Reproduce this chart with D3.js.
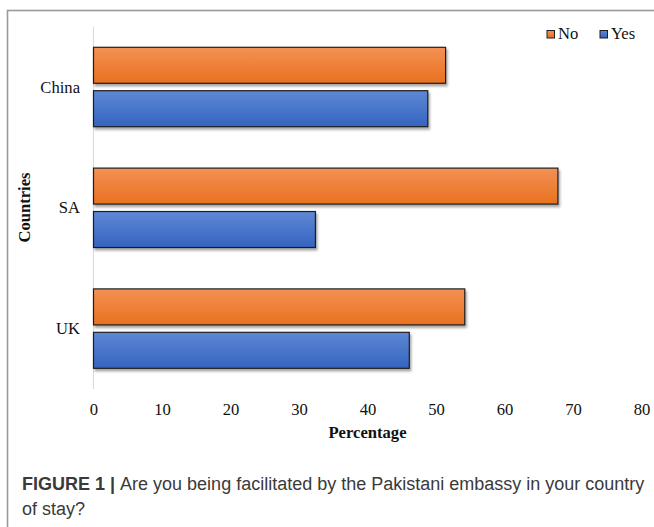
<!DOCTYPE html>
<html><head><meta charset="utf-8">
<script src="https://cdn.jsdelivr.net/npm/d3@7"></script>
<style>body{margin:0;background:#fff;}svg{display:block;}</style>
</head><body>
<svg id="chart" width="654" height="527"></svg>
<script>
const categories = ["China", "SA", "UK"];
const seriesNames = ["No", "Yes"];
const noValues = [51.4, 67.8, 54.2];
const yesValues = [48.8, 32.4, 46.1];
const xTicks = [0, 10, 20, 30, 40, 50, 60, 70, 80];
const xTitle = "Percentage";
const yTitle = "Countries";
const captionBold = "FIGURE 1 | ";
const captionLine1 = "Are you being facilitated by the Pakistani embassy in your country";
const captionLine2 = "of stay?";

const svg = d3.select("#chart");
const defs = svg.append("defs");
const grads = {No: ["#f39155", "#e9711f"], Yes: ["#5e88d5", "#3464bf"]};
seriesNames.forEach(s => {
  const g = defs.append("linearGradient").attr("id", "g" + s).attr("x1", 0).attr("y1", 0).attr("x2", 0).attr("y2", 1);
  g.append("stop").attr("offset", "0%").attr("stop-color", grads[s][0]);
  g.append("stop").attr("offset", "100%").attr("stop-color", grads[s][1]);
});
const f = defs.append("filter").attr("id", "sh").attr("x", "-5%").attr("y", "-20%").attr("width", "115%").attr("height", "160%");
f.append("feDropShadow").attr("dx", 1.5).attr("dy", 2.5).attr("stdDeviation", 1.3).attr("flood-color", "#000").attr("flood-opacity", 0.35);

// frame
svg.append("rect").attr("x", 7.5).attr("y", 10.5).attr("width", 700).attr("height", 600)
  .attr("fill", "none").attr("stroke", "#9a9a9a").attr("stroke-width", 1.6);

const x = d3.scaleLinear().domain([0, 80]).range([93.5, 641.5]);
const y0 = d3.scaleBand().domain(categories).range([26.6, 389]).paddingInner(0);
const y1 = d3.scaleBand().domain(seriesNames).range([20.7, y0.bandwidth() - 20.7]).paddingInner(0.171);

const data = categories.map((c, i) => ({cat: c, vals: [{s: "No", v: noValues[i]}, {s: "Yes", v: yesValues[i]}]}));

// axis line
svg.append("line").attr("x1", x(0)).attr("x2", x(0)).attr("y1", y0.range()[0]).attr("y2", y0.range()[1])
  .attr("stroke", "#d9d9d9").attr("stroke-width", 1);

const grp = svg.selectAll("g.cat").data(data).join("g").attr("class", "cat")
  .attr("transform", d => `translate(0,${y0(d.cat)})`);
grp.selectAll("rect").data(d => d.vals).join("rect")
  .attr("x", x(0))
  .attr("y", d => y1(d.s))
  .attr("width", d => x(d.v) - x(0))
  .attr("height", y1.bandwidth())
  .attr("fill", d => `url(#g${d.s})`)
  .attr("stroke", "#1e1e1e").attr("stroke-width", 1.2)
  .attr("filter", "url(#sh)");

const serif = "'Liberation Serif','Times New Roman',serif";
const fs = 16.6;
// category labels
svg.selectAll("text.cat").data(categories).join("text").attr("class", "cat")
  .attr("x", 80).attr("y", d => y0(d) + y0.bandwidth() / 2 + 5.5)
  .attr("text-anchor", "end").attr("font-family", serif).attr("font-size", fs).attr("fill", "#111")
  .text(d => d);

// x tick labels
const xAxis = d3.axisBottom(x).tickValues(xTicks).tickSize(0).tickPadding(0);
const ax = svg.append("g").attr("transform", "translate(0,403)").call(xAxis);
ax.select(".domain").remove();
ax.selectAll("text").attr("font-family", serif).attr("font-size", fs).attr("fill", "#111").attr("dy", "0.75em");

svg.append("text").attr("x", 367.5).attr("y", 437.5).attr("text-anchor", "middle")
  .attr("font-family", serif).attr("font-size", fs).attr("font-weight", "bold").attr("fill", "#111").text(xTitle);
svg.append("text").attr("transform", "translate(30,207.5) rotate(-90)").attr("text-anchor", "middle")
  .attr("font-family", serif).attr("font-size", fs).attr("font-weight", "bold").attr("fill", "#111").text(yTitle);

// legend
const legX = {No: 547, Yes: 600};
seriesNames.forEach(s => {
  svg.append("rect").attr("x", legX[s]).attr("y", 30.5).attr("width", 7.5).attr("height", 7.5)
    .attr("fill", `url(#g${s})`).attr("stroke", "#1e1e1e").attr("stroke-width", 1);
  svg.append("text").attr("x", legX[s] + 11).attr("y", 38.5).attr("font-family", serif).attr("font-size", fs)
    .attr("fill", "#111").text(s);
});

// caption
const sans = "'Liberation Sans',Arial,Helvetica,sans-serif";
const cap = svg.append("text").attr("x", 22).attr("y", 490).attr("font-family", sans).attr("font-size", 18).attr("fill", "#3a3a3a");
cap.append("tspan").attr("font-weight", "bold").text(captionBold);
cap.append("tspan").text(captionLine1);
svg.append("text").attr("x", 22).attr("y", 515).attr("font-family", sans).attr("font-size", 18).attr("fill", "#3a3a3a").text(captionLine2);
</script>
</body></html>
